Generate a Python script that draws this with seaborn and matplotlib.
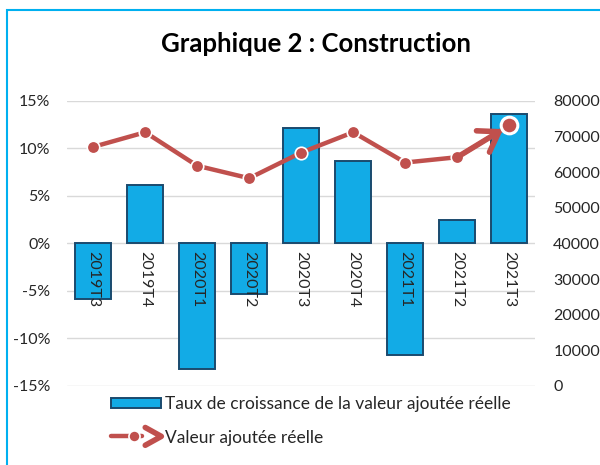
import numpy as np
import pandas as pd
import seaborn as sns
import matplotlib.pyplot as plt
from matplotlib.lines import Line2D
from matplotlib.patches import Patch, Rectangle
from matplotlib.legend_handler import HandlerBase
from matplotlib.ticker import FuncFormatter, MultipleLocator

sns.set_theme(style="white")
plt.rcParams['font.family'] = ['Lato', 'DejaVu Sans']

# data
trimestres = ['2019T3', '2019T4', '2020T1', '2020T2', '2020T3',
              '2020T4', '2021T1', '2021T2', '2021T3']
taux_croissance = [-5.8, 6.1, -13.2, -5.3, 12.2, 8.7, -11.7, 2.5, 13.6]  # %
valeur_ajoutee = [67100, 71200, 61800, 58300, 65500, 71200, 62700, 64200, 73100]

bar_col = '#12ABE6'
bar_edge = '#1A4A6E'
line_col = '#C0504D'

df = pd.DataFrame({'trim': trimestres, 'taux': taux_croissance, 'va': valeur_ajoutee})

fig = plt.figure(figsize=(6, 4.65), dpi=100)
ax = fig.add_axes([0.112, 0.170, 0.780, 0.613])

sns.barplot(data=df, x='trim', y='taux', ax=ax, color=bar_col, width=0.7,
            edgecolor=bar_edge, linewidth=1.4, saturation=1)
ax.set_ylim(-15, 15)
ax.yaxis.set_major_locator(MultipleLocator(5))
ax.yaxis.set_major_formatter(FuncFormatter(lambda v, p: f'{v:.0f}%'))
ax.grid(axis='y', color='#D9D9D9', lw=1)
ax.set_axisbelow(True)
ax.set_xlabel('')
ax.set_ylabel('')
for s in ax.spines.values():
    s.set_visible(False)
ax.tick_params(axis='y', length=0, labelsize=11.5, pad=12)
ax.tick_params(axis='x', length=0, labelbottom=False)

ax2 = ax.twinx()
sns.lineplot(data=df, x='trim', y='va', ax=ax2, sort=False, color=line_col, lw=3.2,
             marker='o', markersize=9, markeredgecolor='white', markeredgewidth=1.2)
n = len(trimestres)
ax2.annotate('', xy=(n - 1, valeur_ajoutee[-1]), xytext=(n - 2, valeur_ajoutee[-2]),
             arrowprops=dict(arrowstyle='->,head_length=0.9,head_width=0.6', color=line_col,
                             lw=4, shrinkA=0, shrinkB=5, mutation_scale=15))
ax2.plot([n - 1], [valeur_ajoutee[-1]], 'o', color=line_col, ms=12,
         mec='white', mew=2.2, zorder=5)
ax2.set_ylim(0, 80000)
ax2.yaxis.set_major_locator(MultipleLocator(10000))
ax2.set_ylabel('')
for s in ax2.spines.values():
    s.set_visible(False)
ax2.tick_params(axis='y', length=0, labelsize=11.5, pad=13)
# category labels drawn by the top axes so they sit over the bars
ax2.xaxis.set_visible(True)
ax2.set_xlabel('')
ax2.tick_params(axis='x', length=0, labelbottom=True, labelsize=11.5,
                pad=-97, labelrotation=-90)
ax.set_xlim(-0.5, n - 0.5)

fig.text(0.527, 0.905, 'Graphique 2 : Construction', ha='center', va='center',
         fontsize=18.5, fontweight='bold', color='black')


class ArrowHandler(HandlerBase):
    def create_artists(self, legend, orig_handle, xdescent, ydescent,
                       width, height, fontsize, trans):
        y = height / 2 - ydescent
        x0 = -xdescent
        seg = Line2D([x0, x0 + width * 0.62], [y, y], color=line_col, lw=3.2)
        dot = Line2D([x0 + width * 0.45], [y], marker='o', color=line_col, ms=8,
                     mec='white', mew=1.2, lw=0)
        chev = Line2D([x0 + width * 0.68, x0 + width, x0 + width * 0.68],
                      [y + height * 0.9, y, y - height * 0.9], color=line_col, lw=4)
        arts = [seg, dot, chev]
        for a in arts:
            a.set_transform(trans)
        return arts


handles = [Patch(facecolor=bar_col, edgecolor=bar_edge, lw=1.4),
           Line2D([], [], color=line_col)]
labels = ['Taux de croissance de la valeur ajoutée réelle', 'Valeur ajoutée réelle']
fig.legend(handles, labels, loc='upper left', bbox_to_anchor=(0.185, 0.148),
           frameon=False, fontsize=12.5, handlelength=2.9, handleheight=0.5,
           handletextpad=0.2, labelspacing=1.0, borderaxespad=0, borderpad=0,
           handler_map={Line2D: ArrowHandler()})

fig.patches.append(Rectangle((7 / 600, -0.1), 1.2, 1.1 - 10 / 465, transform=fig.transFigure,
                             fill=False, edgecolor='#00B0F0', lw=1.5))

fig.savefig('out.png', dpi=100)
